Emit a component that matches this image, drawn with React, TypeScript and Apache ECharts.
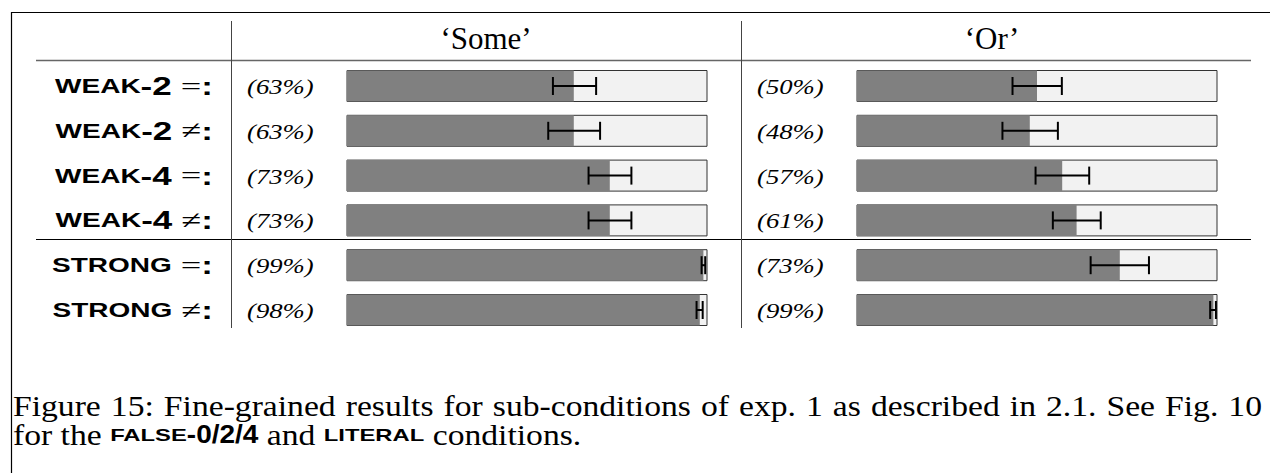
import React, { useEffect, useRef } from 'react';
import * as echarts from 'echarts';

// ---- data ----
const rowName = ['WEAK', 'WEAK', 'WEAK', 'WEAK', 'STRONG', 'STRONG'];
const rowNum = ['-2', '-2', '-4', '-4', '', ''];
const rowRel = ['=', '≠', '=', '≠', '=', '≠'];
const rowIdx = [0, 1, 2, 3, 4, 5];
const columns = ['‘Some’', '‘Or’'];

const someMean = [0.63, 0.63, 0.73, 0.73, 0.99, 0.98];
const someLo = [0.572, 0.559, 0.671, 0.671, 0.985, 0.971];
const someHi = [0.692, 0.703, 0.79, 0.79, 0.995, 0.988];

const orMean = [0.5, 0.48, 0.57, 0.61, 0.73, 0.99];
const orLo = [0.432, 0.404, 0.496, 0.544, 0.649, 0.981];
const orHi = [0.569, 0.558, 0.645, 0.677, 0.811, 0.997];

const captionLine1 =
  'Figure 15: Fine-grained results for sub-conditions of exp. 1 as described in 2.1. See Fig. 10';
const captionLine2 = ['for the ', 'FALSE', '-0/2/4', ' and ', 'LITERAL', ' conditions.'];
const captionLine2Kind = ['t', 'sc', 'num', 't', 'sc', 't'];

// ---- layout ----
const W = 1270;
const H = 473;
const BAR_LEFT = [347, 857];
const BAR_W = 360;
const GRID_TOP = 63.6;
const BAND = 44.8;
const STRETCH = 1.4;
const SERIF = '"Liberation Serif", "DejaVu Serif", serif';
const SANS = '"Liberation Sans", "DejaVu Sans", Arial, sans-serif';

const CAP_FONTS: Record<string, { font: string; sx: number }> = {
  t: { font: `29px ${SERIF}`, sx: 1.16 },
  sc: { font: `bold 17px ${SANS}`, sx: 1.4 },
  num: { font: `bold 25px ${SANS}`, sx: 1.12 },
};

let measureCtx: CanvasRenderingContext2D | null = null;
function measure(text: string, font: string) {
  if (!measureCtx) measureCtx = document.createElement('canvas').getContext('2d');
  measureCtx!.font = font;
  return measureCtx!.measureText(text).width;
}

function textEl(text: string, font: string, x: number, y: number, sx: number) {
  return {
    type: 'text',
    x,
    y,
    scaleX: sx,
    silent: true,
    style: {
      text,
      font,
      fill: '#000',
      align: 'left',
      verticalAlign: 'middle',
      textAlign: 'left',
      textVerticalAlign: 'middle',
    },
  };
}

export default function App() {
  const ref = useRef<HTMLDivElement>(null);

  useEffect(() => {
    document.body.style.margin = '0';
    const chart = echarts.init(ref.current!, undefined, { renderer: 'svg' });

    const means = [someMean, orMean];
    const los = [someLo, orLo];
    const his = [someHi, orHi];

    const grids = BAR_LEFT.map((l) => ({
      left: l,
      top: GRID_TOP,
      width: BAR_W,
      height: BAND * rowIdx.length,
    }));
    const xAxes = BAR_LEFT.map((_, g) => ({
      type: 'value',
      gridIndex: g,
      min: 0,
      max: 1,
      show: false,
    }));
    const yAxes = BAR_LEFT.map((_, g) => ({
      type: 'category',
      gridIndex: g,
      data: rowIdx.map(String),
      inverse: true,
      show: false,
    }));

    const series: any[] = [];
    BAR_LEFT.forEach((_, g) => {
      series.push({
        type: 'bar',
        xAxisIndex: g,
        yAxisIndex: g,
        data: means[g],
        barWidth: 31,
        z: 2,
        itemStyle: { color: '#808080' },
        showBackground: true,
        backgroundStyle: { color: '#f2f2f2', borderColor: '#333', borderWidth: 1 },
        silent: true,
      });
      series.push({
        type: 'custom',
        xAxisIndex: g,
        yAxisIndex: g,
        z: 10,
        data: rowIdx.map((i) => [los[g][i], his[g][i], i]),
        encode: { x: [0, 1], y: 2 },
        renderItem: (_p: any, api: any) => {
          const r = api.value(2);
          const a = api.coord([api.value(0), r]);
          const b = api.coord([api.value(1), r]);
          const h = 9;
          const st = { stroke: '#000', lineWidth: 2 };
          return {
            type: 'group',
            children: [
              { type: 'line', shape: { x1: a[0], y1: a[1], x2: b[0], y2: b[1] }, style: st },
              { type: 'line', shape: { x1: a[0], y1: a[1] - h, x2: a[0], y2: a[1] + h }, style: st },
              { type: 'line', shape: { x1: b[0], y1: b[1] - h, x2: b[0], y2: b[1] + h }, style: st },
            ],
          };
        },
      });
      // percentage labels
      series.push({
        type: 'custom',
        xAxisIndex: g,
        yAxisIndex: g,
        z: 10,
        data: rowIdx.map((i) => [0, i]),
        encode: { x: 0, y: 1 },
        renderItem: (_p: any, api: any) => {
          const r = api.value(1);
          const c = api.coord([0, r]);
          return {
            type: 'text',
            x: c[0] - 100,
            y: c[1] + 1,
            scaleX: 1.27,
            style: {
              text: `(${Math.round(means[g][r] * 100)}%)`,
              fontFamily: SERIF,
              fontStyle: 'italic',
              fontSize: 21,
              fill: '#000',
              align: 'left',
              verticalAlign: 'middle',
            },
          };
        },
      });
    });
    // row labels
    series.push({
      type: 'custom',
      xAxisIndex: 0,
      yAxisIndex: 0,
      z: 10,
      data: rowIdx.map((i) => [0, i]),
      encode: { x: 0, y: 1 },
      renderItem: (_p: any, api: any) => {
        const r = api.value(1);
        const c = api.coord([0, r]);
        const num = rowNum[r] ? `{num|${rowNum[r]}}` : '';
        return {
          type: 'text',
          x: c[0] - 134,
          y: c[1],
          scaleX: STRETCH,
          style: {
            text: `{sc|${rowName[r]}}${num}{rel| ${rowRel[r]}}{col|:}`,
            align: 'right',
            verticalAlign: 'middle',
            fill: '#000',
            rich: {
              sc: { fontFamily: SANS, fontWeight: 'bold', fontSize: 20, fill: '#000' },
              num: { fontFamily: SANS, fontWeight: 'bold', fontSize: 25, fill: '#000' },
              rel: { fontFamily: SERIF, fontSize: 26, fill: '#000' },
              col: { fontFamily: SANS, fontWeight: 'bold', fontSize: 25, fill: '#000' },
            },
          },
        };
      },
    });

    const line = (x1: number, y1: number, x2: number, y2: number, stroke = '#000', lw = 1) => ({
      type: 'line',
      shape: { x1, y1, x2, y2 },
      style: { stroke, lineWidth: lw },
      silent: true,
    });

    // caption line 1: justified between x=13 and x=1262
    const capLeft = 13;
    const capRight = 1262;
    const cf = CAP_FONTS.t;
    const words = captionLine1.split(' ');
    const widths = words.map((w) => measure(w, cf.font) * cf.sx);
    const total = widths.reduce((a, b) => a + b, 0);
    const gap = (capRight - capLeft - total) / (words.length - 1);
    const capEls: any[] = [];
    let cx = capLeft;
    words.forEach((w, i) => {
      capEls.push(textEl(w, cf.font, cx, 406, cf.sx));
      cx += widths[i] + gap;
    });
    // caption line 2: mixed fonts
    cx = capLeft;
    captionLine2.forEach((p, i) => {
      const f = CAP_FONTS[captionLine2Kind[i]];
      capEls.push(textEl(p, f.font, cx, 435, f.sx));
      cx += measure(p, f.font) * f.sx;
    });

    const graphic: any[] = [
      line(11, 12.5, W, 12.5, '#000', 1.2),
      line(11.5, 12, 11.5, H, '#000', 1.2),
      line(36, 60.5, 1251, 60.5, '#666', 1.5),
      line(36, 239.5, 1251, 239.5, '#000', 1.2),
      line(231.5, 21, 231.5, 328, '#444', 1),
      line(741.5, 21, 741.5, 328, '#444', 1),
      {
        type: 'text',
        x: 486,
        y: 38,
        style: {
          text: columns[0],
          font: `31px ${SERIF}`,
          fill: '#000',
          align: 'center',
          verticalAlign: 'middle',
          textAlign: 'center',
          textVerticalAlign: 'middle',
        },
      },
      {
        type: 'text',
        x: 992,
        y: 38,
        style: {
          text: columns[1],
          font: `31px ${SERIF}`,
          fill: '#000',
          align: 'center',
          verticalAlign: 'middle',
          textAlign: 'center',
          textVerticalAlign: 'middle',
        },
      },
      ...capEls,
    ];

    chart.setOption({
      animation: false,
      backgroundColor: '#fff',
      grid: grids,
      xAxis: xAxes,
      yAxis: yAxes,
      series,
      graphic,
    });

    return () => chart.dispose();
  }, []);

  return <div ref={ref} style={{ width: W, height: H }} />;
}
